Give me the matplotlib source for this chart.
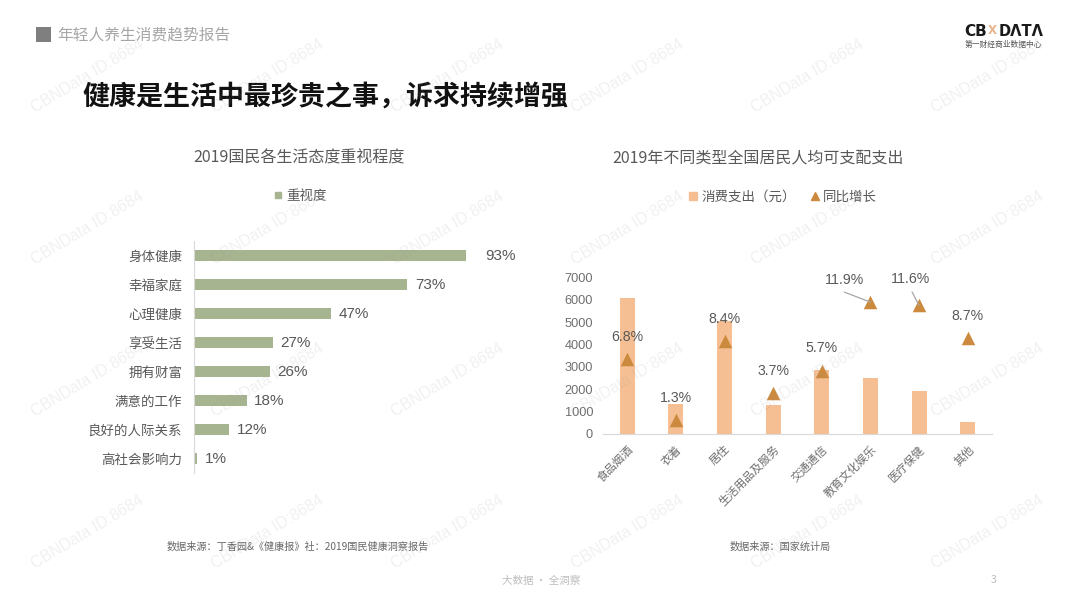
import matplotlib
matplotlib.use('Agg')
import matplotlib.pyplot as plt
from matplotlib.lines import Line2D
from matplotlib.patches import Rectangle

plt.rcParams['font.family'] = ['Noto Sans CJK SC', 'DejaVu Sans']

W, H = 1080, 608

# Data
att_labels = ['身体健康', '幸福家庭', '心理健康', '享受生活', '拥有财富', '满意的工作', '良好的人际关系', '高社会影响力']
att_values = [93, 73, 47, 27, 26, 18, 12, 1]
cat_labels = ['食品烟酒', '衣着', '居住', '生活用品及服务', '交通通信', '教育文化娱乐', '医疗保健', '其他']
spend = [6084, 1338, 5055, 1281, 2862, 2513, 1902, 524]
growth = [6.8, 1.3, 8.4, 3.7, 5.7, 11.9, 11.6, 8.7]
growth_text = ['6.8%', '1.3%', '8.4%', '3.7%', '5.7%', '11.9%', '11.6%', '8.7%']

GREEN = '#A6B48F'
ORANGE = '#F5BF93'
TRI = '#CC8A3E'
TXT = '#595959'
AXC = '#D9D9D9'

fig = plt.figure(figsize=(W / 100, H / 100), dpi=100, facecolor='white')


def fx(x):
    return x / W


def fy(y):
    return 1 - y / H


def axes_px(l, t, r, b):
    return fig.add_axes([l / W, 1 - b / H, (r - l) / W, (b - t) / H])


def ftext(x, y, s, **kw):
    kw.setdefault('va', 'center')
    kw.setdefault('ha', 'center')
    return fig.text(fx(x), fy(y), s, **kw)


# Header
fig.patches.append(Rectangle((fx(36), fy(42)), 15 / W, 15 / H, transform=fig.transFigure,
                             facecolor='#7F7F7F', edgecolor='none'))
ftext(57, 34.5, '年轻人养生消费趋势报告', ha='left', fontsize=11.3, color='#A6A6A6')
ftext(82, 97, '健康是生活中最珍贵之事，诉求持续增强', ha='left', fontsize=19.45,
      fontweight='bold', color='#111111')

# Logo
ftext(964, 31, 'CB', ha='left', fontsize=11, fontweight='bold', color='#1A1A1A', family='DejaVu Sans')
ftext(992.5, 31, 'X', ha='center', fontsize=8.5, fontweight='bold', color='#E8B48C', family='DejaVu Sans')
ftext(999, 31, 'DΛTΛ', ha='left', fontsize=10.5, fontweight='bold', color='#1A1A1A', family='DejaVu Sans')
ftext(1003, 45, '第一财经商业数据中心', fontsize=5.6, color='#555555')

# Chart titles
ftext(299.5, 158, '2019国民各生活态度重视程度', fontsize=11.5, color=TXT)
ftext(758, 158, '2019年不同类型全国居民人均可支配支出', fontsize=11.5, color=TXT)

# Left chart
axL = axes_px(194, 241, 486, 473)
ypos = list(range(len(att_values)))
axL.barh(ypos, att_values, height=0.345, color=GREEN)
axL.set_xlim(0, 100)
axL.set_ylim(7.5, -0.5)
axL.set_yticks(ypos)
axL.set_yticklabels(att_labels, fontsize=9.7, color=TXT)
axL.tick_params(axis='y', length=0, pad=8.5)
axL.set_xticks([])
for s in ['top', 'right', 'bottom']:
    axL.spines[s].set_visible(False)
axL.spines['left'].set_color(AXC)
axL.patch.set_alpha(0)
for i, v in enumerate(att_values):
    off = 14 if i == 0 else 5.5
    axL.annotate(f'{v}%', xy=(v, i), xytext=(off, -0.7), textcoords='offset points',
                 va='center', ha='left', fontsize=11, color=TXT, family='Liberation Sans')
axL.legend(handles=[Line2D([], [], ls='none', marker='s', ms=4.5, color=GREEN, label='重视度')],
           loc='center', bbox_to_anchor=(fx(300), fy(195.5)), bbox_transform=fig.transFigure,
           frameon=False, fontsize=9.7, labelcolor=TXT, handlelength=0.8, handletextpad=0.2, borderpad=0)

# Right chart
axR = axes_px(603, 277.3, 992, 434)
xpos = list(range(len(spend)))
axR.bar(xpos, spend, width=0.31, color=ORANGE)
axR.set_xlim(-0.5, 7.5)
axR.set_ylim(0, 7000)
axR.set_yticks(range(0, 7001, 1000))
axR.tick_params(axis='y', length=0, labelsize=9.2, labelcolor='#6E6E6E', pad=7.2)
for t in axR.get_yticklabels():
    t.set_fontfamily('Liberation Sans')
axR.set_xticks(xpos)
axR.set_xticklabels(cat_labels, fontsize=8.2, color='#6E6E6E', rotation=45, ha='right', rotation_mode='anchor')
axR.tick_params(axis='x', length=0, pad=7)
for s in ['top', 'right', 'left']:
    axR.spines[s].set_visible(False)
axR.spines['bottom'].set_color(AXC)
axR.patch.set_alpha(0)

axG = axR.twinx()
axG.set_ylim(0, 7000 / 495)
axG.scatter(xpos, growth, marker='^', s=95, color=TRI, linewidths=0, zorder=3)
axG.set_yticks([])
for s in axG.spines.values():
    s.set_visible(False)
axG.patch.set_alpha(0)

# label offset from marker, in pixels (dx, dy up)
lab_off = [(0, 22), (0, 22), (0, 22), (0, 22), (0, 23), (-26, 22.5), (-9, 26), (0, 22)]
for x, g, t, (dx, dy) in zip(xpos, growth, growth_text, lab_off):
    axG.annotate(t, xy=(x, g), xytext=(dx * 0.72, dy * 0.72), textcoords='offset points',
                 ha='center', va='center', fontsize=10.2, color=TXT, family='Liberation Sans')
# leader lines
for x, g, (dx, dy) in [(5, 11.9, (-26, 10)), (6, 11.6, (-7, 13.5))]:
    axG.annotate('', xy=(x, g), xytext=(dx * 0.72, dy * 0.72), textcoords='offset points',
                 arrowprops=dict(arrowstyle='-', color='#A6A6A6', lw=0.9, shrinkA=0, shrinkB=0,
                                 relpos=(0.5, 0.5)))

handles = [Line2D([], [], ls='none', marker='s', ms=5.5, color=ORANGE, label='消费支出（元）'),
           Line2D([], [], ls='none', marker='^', ms=5.5, color=TRI, label='同比增长')]
axR.legend(handles=handles, loc='center', ncol=2, bbox_to_anchor=(fx(782.5), fy(196.5)),
           bbox_transform=fig.transFigure, frameon=False, fontsize=9.7, labelcolor=TXT,
           handlelength=0.8, handletextpad=0.2, columnspacing=1.05, borderpad=0)

# Sources and footer
ftext(298, 547, '数据来源：丁香园&《健康报》社：2019国民健康洞察报告', fontsize=7.3, color='#666666')
ftext(780.5, 547, '数据来源：国家统计局', fontsize=7.3, color='#666666')
ftext(541, 581, '大数据 · 全洞察', fontsize=7.6, color='#BDBDBD')
ftext(994, 580, '3', fontsize=7.6, color='#BDBDBD')

# Watermark
for cx in [88, 268, 448, 628, 808, 988]:
    for cy in [76, 228, 380, 532]:
        fig.text(fx(cx), fy(cy), 'CBNData ID:8684', fontsize=11.5, color='#9A9A9A', alpha=0.14,
                 rotation=31, ha='center', va='center', rotation_mode='anchor',
                 family='Liberation Sans', zorder=10)

fig.savefig('out.png', dpi=100)
